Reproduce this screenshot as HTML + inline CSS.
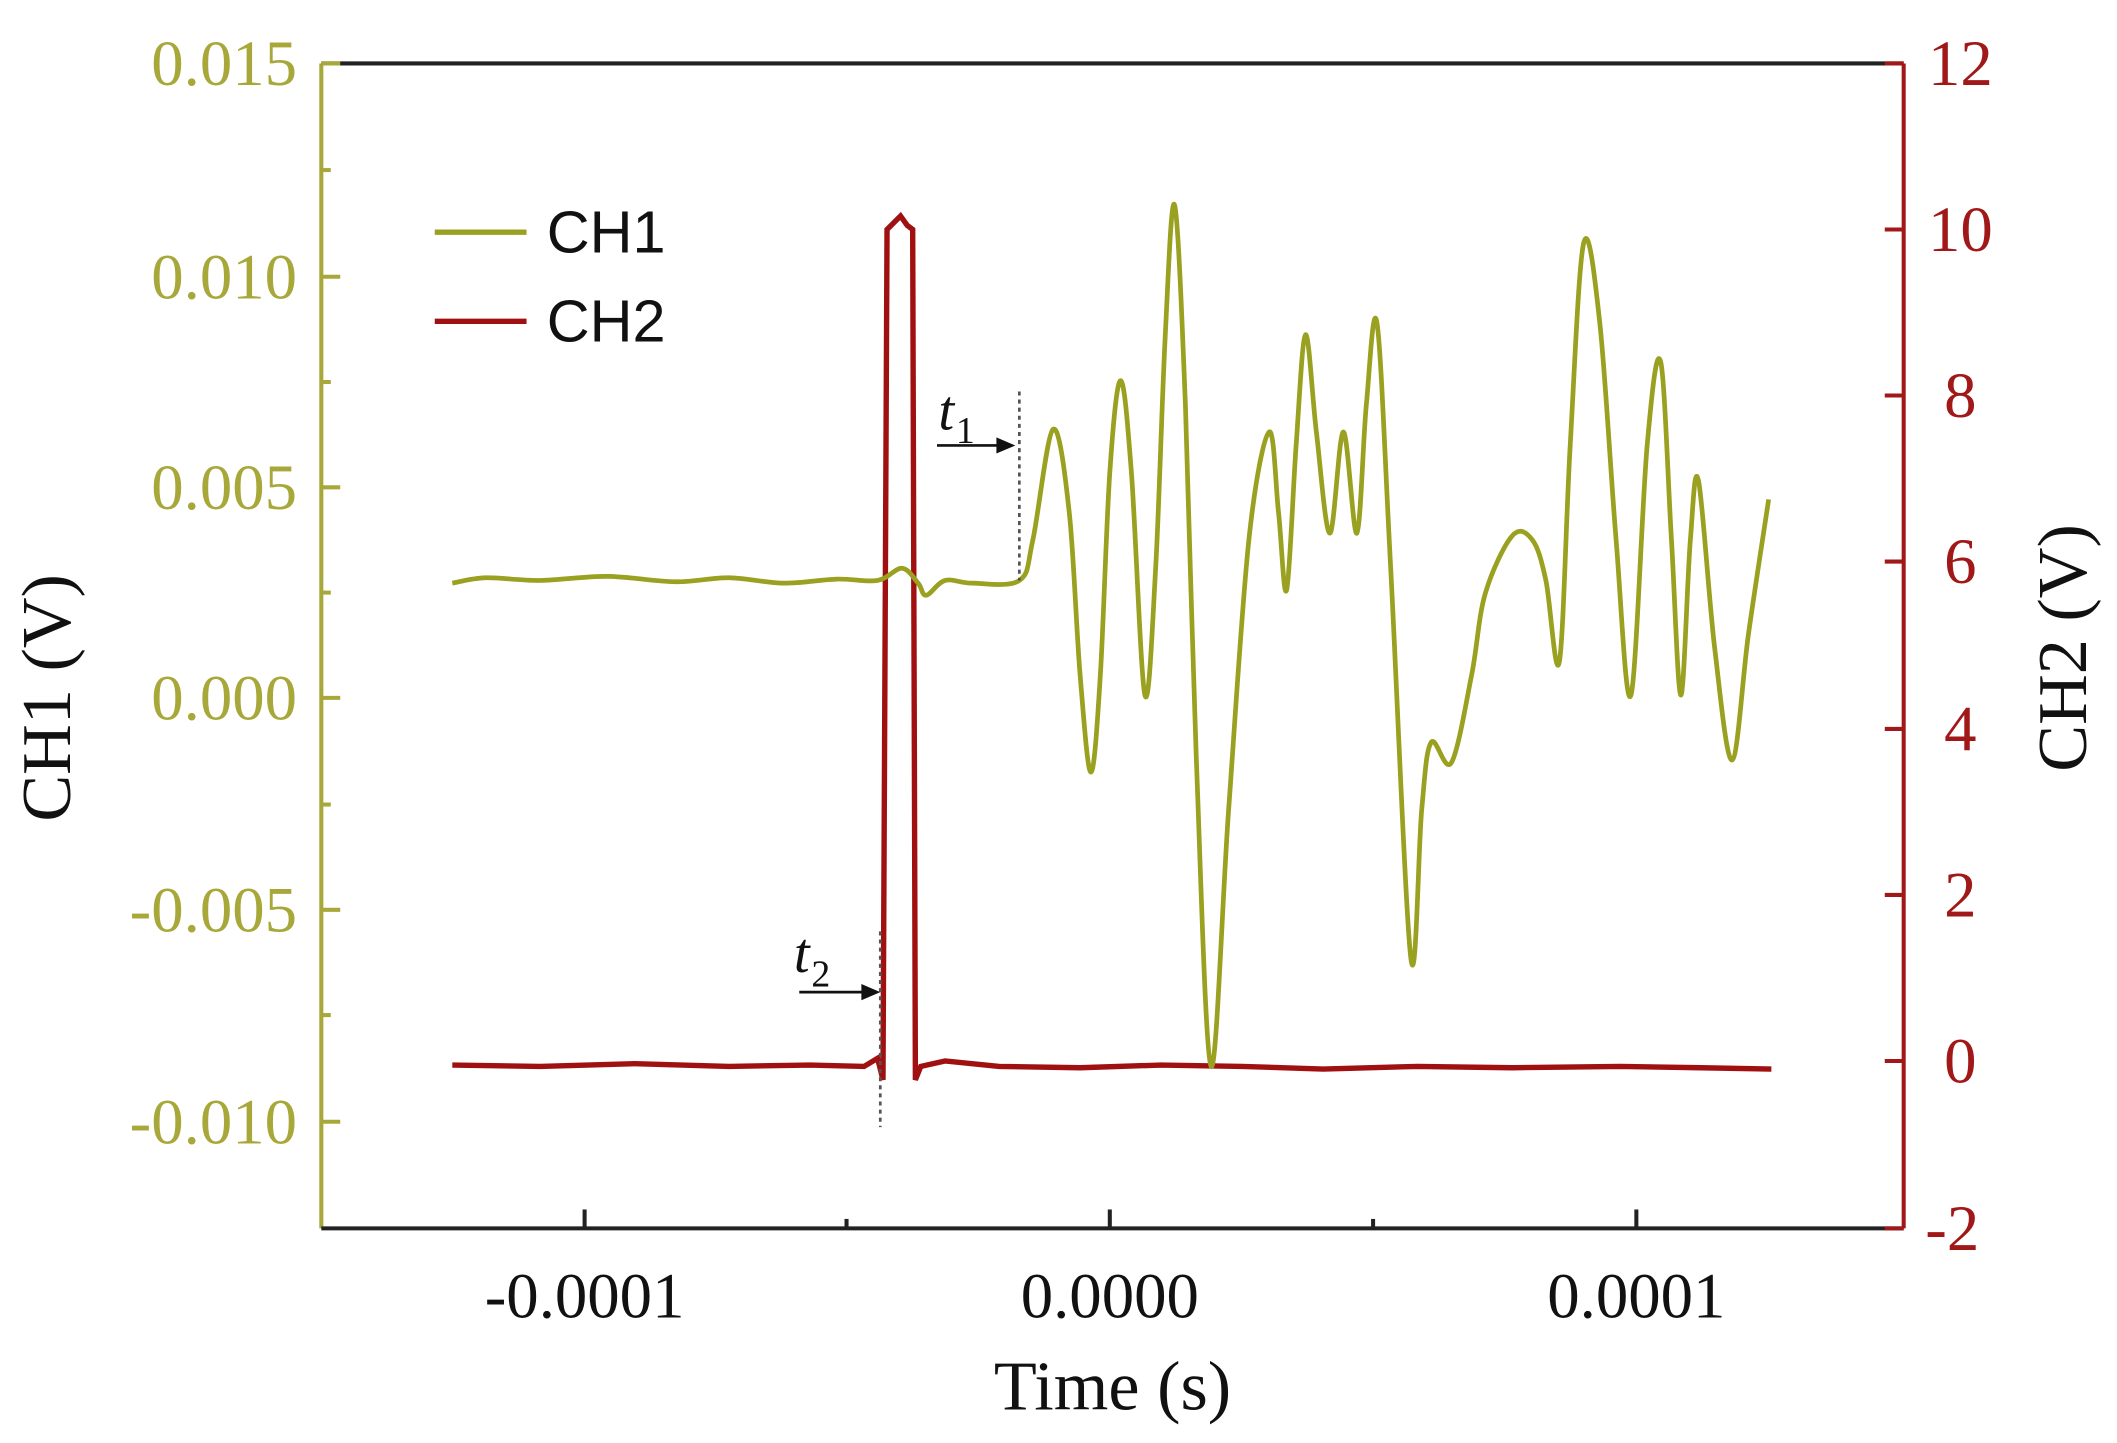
<!DOCTYPE html>
<html><head><style>html,body{margin:0;padding:0;background:#fff}svg{display:block}</style></head>
<body>
<svg width="2117" height="1443" viewBox="0 0 1568 1069" preserveAspectRatio="none" xmlns="http://www.w3.org/2000/svg">
<rect width="1568" height="1069" fill="#fff"/>
<line x1="238" y1="47" x2="238" y2="910" stroke="#a8a83a" stroke-width="3"/>
<line x1="1410" y1="47" x2="1410" y2="910" stroke="#a01818" stroke-width="3"/>
<line x1="238" y1="910" x2="1410" y2="910" stroke="#222" stroke-width="3"/>
<line x1="238" y1="47" x2="1410" y2="47" stroke="#222" stroke-width="3"/>
<g stroke="#a8a83a" stroke-width="3">
<line x1="238" y1="47" x2="252" y2="47"/><line x1="238" y1="205" x2="252" y2="205"/><line x1="238" y1="361" x2="252" y2="361"/><line x1="238" y1="517" x2="252" y2="517"/><line x1="238" y1="674" x2="252" y2="674"/><line x1="238" y1="831" x2="252" y2="831"/>
<line x1="238" y1="126" x2="245" y2="126"/><line x1="238" y1="283" x2="245" y2="283"/><line x1="238" y1="439" x2="245" y2="439"/><line x1="238" y1="596" x2="245" y2="596"/><line x1="238" y1="752" x2="245" y2="752"/>
</g>
<g stroke="#a01818" stroke-width="3">
<line x1="1396" y1="47" x2="1410" y2="47"/><line x1="1396" y1="170" x2="1410" y2="170"/><line x1="1396" y1="293" x2="1410" y2="293"/><line x1="1396" y1="416" x2="1410" y2="416"/><line x1="1396" y1="540" x2="1410" y2="540"/><line x1="1396" y1="663" x2="1410" y2="663"/><line x1="1396" y1="786" x2="1410" y2="786"/><line x1="1396" y1="910" x2="1410" y2="910"/>
</g>
<g stroke="#222" stroke-width="3">
<line x1="433" y1="910" x2="433" y2="896"/><line x1="822" y1="910" x2="822" y2="896"/><line x1="1212" y1="910" x2="1212" y2="896"/>
<line x1="627" y1="910" x2="627" y2="903"/><line x1="1017" y1="910" x2="1017" y2="903"/>
</g>
<g font-family="Liberation Serif, serif" font-size="48" fill="#a8a83a" text-anchor="end">
<text x="220" y="63">0.015</text><text x="220" y="221">0.010</text><text x="220" y="377">0.005</text><text x="220" y="533">0.000</text><text x="220" y="690">-0.005</text><text x="220" y="847">-0.010</text>
</g>
<g font-family="Liberation Serif, serif" font-size="48" fill="#a01818" text-anchor="start">
<text x="1428" y="63">12</text><text x="1428" y="186">10</text><text x="1440" y="309">8</text><text x="1440" y="432">6</text><text x="1440" y="556">4</text><text x="1440" y="679">2</text><text x="1440" y="802">0</text><text x="1426" y="926">-2</text>
</g>
<g font-family="Liberation Serif, serif" font-size="48" fill="#111" text-anchor="middle">
<text x="433" y="976">-0.0001</text><text x="822" y="976">0.0000</text><text x="1212" y="976">0.0001</text>
<text x="824" y="1044" font-size="52">Time (s)</text>
<text transform="translate(52,517) rotate(-90)" font-size="52">CH1 (V)</text>
<text transform="translate(1545,480) rotate(-90)" font-size="52">CH2 (V)</text>
</g>
<line x1="322" y1="172" x2="390" y2="172" stroke="#9aa020" stroke-width="4"/>
<line x1="322" y1="238" x2="390" y2="238" stroke="#a01010" stroke-width="4"/>
<g font-family="Liberation Sans, sans-serif" font-size="44" fill="#111">
<text x="405" y="187">CH1</text><text x="405" y="253">CH2</text>
</g>
<polyline fill="none" stroke="#a01010" stroke-width="4" points="335,789 400,790 470,788 540,790 600,789 640,790 650,784 654,800 657,170 662,165 667,160 672,167 676,170 678,800 682,790 700,786 740,790 800,791 860,789 920,790 980,792 1050,790 1120,791 1200,790 1260,791 1312,792"/>
<path id="ch1" fill="none" stroke="#9aa020" stroke-width="3.5" stroke-linejoin="round" d=""/>
<line x1="755" y1="290" x2="755" y2="430" stroke="#555" stroke-width="2" stroke-dasharray="3,3"/>
<line x1="652" y1="690" x2="652" y2="835" stroke="#555" stroke-width="2" stroke-dasharray="3,3"/>
<line x1="694" y1="330" x2="740" y2="330" stroke="#111" stroke-width="2"/>
<polygon points="752,330 738,324 738,336" fill="#111"/>
<line x1="592" y1="735" x2="640" y2="735" stroke="#111" stroke-width="2"/>
<polygon points="652,735 638,729 638,741" fill="#111"/>
<g font-family="Liberation Serif, serif" font-size="42" font-style="italic" fill="#111">
<text x="695" y="318">t</text><text x="708" y="328" font-size="28" font-style="normal">1</text>
<text x="588" y="720">t</text><text x="601" y="731" font-size="28" font-style="normal">2</text>
</g>
</svg>
<script>
var p=[[335,432],[360,428],[400,430],[450,427],[500,431],[540,428],[580,432],[620,429],[650,430],[668,421],[680,432],[686,441],[700,430],[720,432],[755,430],[765,400],[780,318],[792,380],[800,500],[808,572],[815,500],[822,350],[830,282],[838,350],[848,515],[856,420],[863,250],[870,152],[878,300],[886,560],[897,790],[910,600],[925,400],[940,320],[947,380],[953,437],[960,330],[967,248],[975,320],[985,395],[995,320],[1005,395],[1012,300],[1020,240],[1030,420],[1045,710],[1053,600],[1060,550],[1075,565],[1090,500],[1100,440],[1120,397],[1135,400],[1145,430],[1155,490],[1163,330],[1173,180],[1185,240],[1197,400],[1208,515],[1220,330],[1230,268],[1238,400],[1245,515],[1252,400],[1258,356],[1270,480],[1283,563],[1295,470],[1310,370]];
var d="M"+p[0][0]+","+p[0][1];
for(var i=0;i<p.length-1;i++){var a=p[Math.max(0,i-1)],b=p[i],c=p[i+1],e=p[Math.min(p.length-1,i+2)];
var c1x=b[0]+(c[0]-a[0])/6,c1y=b[1]+(c[1]-a[1])/6,c2x=c[0]-(e[0]-b[0])/6,c2y=c[1]-(e[1]-b[1])/6;
d+=" C"+c1x.toFixed(1)+","+c1y.toFixed(1)+" "+c2x.toFixed(1)+","+c2y.toFixed(1)+" "+c[0]+","+c[1];}
document.getElementById("ch1").setAttribute("d",d);
</script>
</body></html>
